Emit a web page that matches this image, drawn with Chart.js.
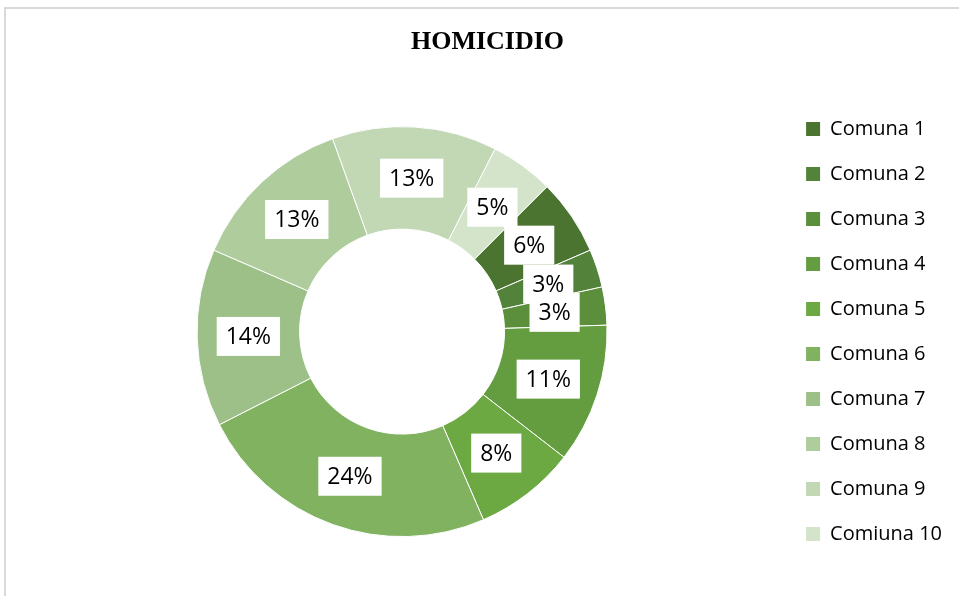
<!DOCTYPE html>
<html>
<head>
<meta charset="utf-8">
<script src="https://cdn.jsdelivr.net/npm/chart.js@4.4.1/dist/chart.umd.min.js"></script>
<style>
html,body{margin:0;padding:0;background:#ffffff;}
#wrap{position:relative;width:959px;height:596px;overflow:hidden;}
canvas{display:block;}
</style>
</head>
<body>
<div id="wrap"><canvas id="c" width="959" height="596"></canvas></div>
<script>
// ---- data ----
const titleText = 'HOMICIDIO';
const categories = ['Comuna 1','Comuna 2','Comuna 3','Comuna 4','Comuna 5','Comuna 6','Comuna 7','Comuna 8','Comuna 9','Comiuna 10'];
const values = [6, 3, 3, 11, 8, 24, 14, 13, 13, 5];
const sliceColors = ['#4b7430','#53823a','#5b8f3b','#639d3f','#6da943','#80b260','#9cc087','#aecc9c','#c2d8b5','#d4e4ca'];

// ---- plugins ----
const framePlugin = {
  id: 'frame',
  beforeDraw(chart) {
    const ctx = chart.ctx;
    ctx.save();
    ctx.fillStyle = '#ffffff';
    ctx.fillRect(0, 0, chart.width, chart.height);
    ctx.fillStyle = '#d9d9d9';
    ctx.fillRect(4, 7, chart.width - 4, 2);
    ctx.fillRect(4, 7, 2, chart.height - 7);
    ctx.restore();
  }
};

const sliceLabelPlugin = {
  id: 'sliceLabels',
  afterDatasetsDraw(chart) {
    const ctx = chart.ctx;
    const meta = chart.getDatasetMeta(0);
    const total = values.reduce((a, b) => a + b, 0);
    ctx.save();
    ctx.font = '23px "Open Sans"';
    ctx.textAlign = 'center';
    ctx.textBaseline = 'middle';
    meta.data.forEach((arc, i) => {
      const p = arc.tooltipPosition(true);
      const txt = Math.round(values[i] / total * 100) + '%';
      const w = ctx.measureText(txt).width + 18;
      const h = 39;
      ctx.fillStyle = '#ffffff';
      ctx.fillRect(p.x - w / 2, p.y - h / 2, w, h);
      ctx.fillStyle = '#000000';
      ctx.fillText(txt, p.x, p.y + 1);
    });
    ctx.restore();
  }
};

new Chart(document.getElementById('c'), {
  type: 'doughnut',
  data: {
    labels: categories,
    datasets: [{
      data: values,
      backgroundColor: sliceColors,
      borderColor: '#ffffff',
      borderWidth: 1
    }]
  },
  options: {
    responsive: false,
    devicePixelRatio: 1,
    animation: false,
    events: [],
    rotation: 45,
    cutout: '50%',
    radius: 205,
    layout: { padding: { left: 23, right: 7, top: 0, bottom: 23 } },
    plugins: {
      title: {
        display: true,
        text: titleText,
        color: '#000000',
        font: { family: '"Liberation Serif", "Times New Roman", serif', size: 26, weight: 'bold' },
        padding: { top: 27, bottom: 32 }
      },
      legend: {
        display: true,
        position: 'right',
        align: 'center',
        fullSize: false,
        labels: {
          color: '#000000',
          font: { family: '"Open Sans"', size: 20 },
          boxWidth: 14,
          boxHeight: 14,
          padding: 25,
          generateLabels(chart) {
            const items = Chart.overrides.doughnut.plugins.legend.labels.generateLabels(chart);
            items.forEach(it => { it.lineWidth = 0; it.strokeStyle = 'rgba(0,0,0,0)'; });
            return items;
          }
        }
      },
      tooltip: { enabled: false }
    }
  },
  plugins: [framePlugin, sliceLabelPlugin]
});
</script>
</body>
</html>
